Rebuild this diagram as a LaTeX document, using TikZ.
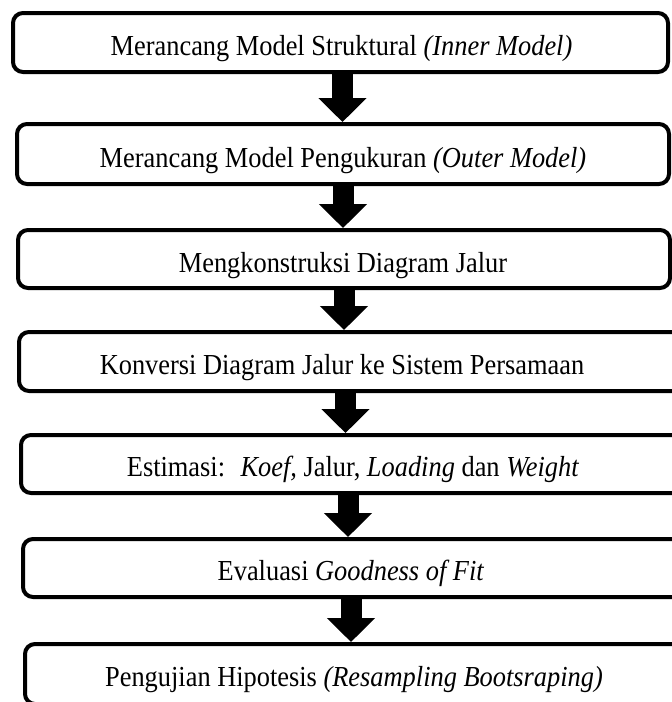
\documentclass[tikz,border=0pt]{standalone}
\usepackage{fontspec}
\setmainfont[FakeStretch=0.91]{Liberation Serif}
\usetikzlibrary{arrows.meta}
\begin{document}
\begin{tikzpicture}[x=1pt,y=-1pt,
  box/.style={draw, line width=4pt, rounded corners=10pt, inner sep=0pt},
  lbl/.style={anchor=base, inner sep=0pt, font=\fontsize{29}{33}\selectfont},
  bigarrow/.style={line width=21pt, -{Triangle[width=47pt,length=24pt]}}]
\useasboundingbox (0,0) rectangle (672,702);
\clip (0,0) rectangle (672,702);
\node[box, minimum width=655pt, minimum height=59pt] (b1) at (340.5,42.5) {};
\node[box, minimum width=652pt, minimum height=60pt] (b2) at (343,154) {};
\node[box, minimum width=652pt, minimum height=58pt] (b3) at (344,259) {};
\node[box, minimum width=670pt, minimum height=59pt] (b4) at (354,361.5) {};
\node[box, minimum width=670pt, minimum height=58pt] (b5) at (356,464) {};
\node[box, minimum width=670pt, minimum height=58pt] (b6) at (358,568) {};
\node[box, minimum width=670pt, minimum height=60pt] (b7) at (360,674) {};
\node[lbl] (t1) at (341.5,55.5) {Merancang Model Struktural \textit{(Inner Model)}};
\node[lbl] (t2) at (343,167) {Merancang Model Pengukuran \textit{(Outer Model)}};
\node[lbl] (t3) at (343,272) {Mengkonstruksi Diagram Jalur};
\node[lbl] (t4) at (342,374) {Konversi Diagram Jalur ke Sistem Persamaan};
\node[lbl] (t5) at (353,476) {Estimasi:~ \textit{Koef,} Jalur, \textit{Loading} dan \textit{Weight}};
\node[lbl] (t6) at (351,580) {Evaluasi \textit{Goodness of Fit}};
\node[lbl] (t7) at (354,686) {Pengujian Hipotesis \textit{(Resampling Bootsraping)}};
\coordinate (x1) at (342.5,0);
\coordinate (x2) at (343,0);
\coordinate (x3) at (344,0);
\coordinate (x4) at (345.5,0);
\coordinate (x5) at (348,0);
\coordinate (x6) at (351,0);
\draw[bigarrow] (b1.south -| x1) -- (b2.north -| x1);
\draw[bigarrow] (b2.south -| x2) -- (b3.north -| x2);
\draw[bigarrow] (b3.south -| x3) -- (b4.north -| x3);
\draw[bigarrow] (b4.south -| x4) -- (b5.north -| x4);
\draw[bigarrow] (b5.south -| x5) -- (b6.north -| x5);
\draw[bigarrow] (b6.south -| x6) -- (b7.north -| x6);
\end{tikzpicture}
\end{document}
